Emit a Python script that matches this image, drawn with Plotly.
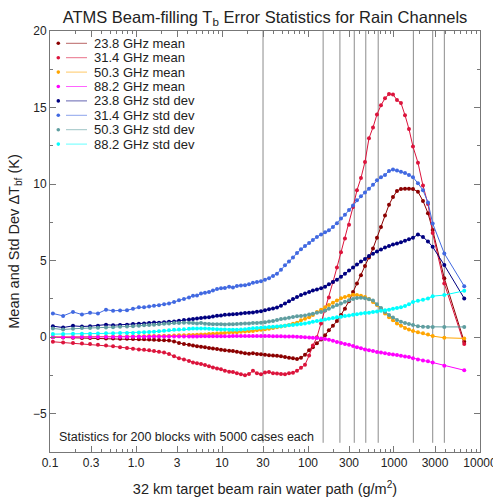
import plotly.graph_objects as go

# Rain water path of each block (g/m^2), shared by all series
rwp = [0.108, 0.142, 0.185, 0.235, 0.292, 0.361, 0.448, 0.541, 0.652, 0.785,
       0.922, 1.08, 1.24, 1.42, 1.62, 1.85, 2.12, 2.42, 2.77, 3.16,
       3.61, 4.13, 4.60, 5.12, 5.70, 6.34, 7.06, 7.85, 8.75, 9.73,
       10.8, 12.1, 13.4, 14.9, 16.6, 18.5, 20.6, 22.9, 25.5, 28.4,
       31.6, 35.2, 39.2, 43.6, 48.5, 54.0, 60.1, 66.9, 74.5, 82.9,
       92.3, 103, 114, 127, 142, 158, 175, 195, 217, 242,
       269, 300, 334, 371, 413, 460, 512, 570, 634, 706,
       786, 875, 973, 1083, 1205, 1343, 1493, 1663, 1900, 2173,
       2484, 2818, 3846, 6561]

mean_238 = [0.00, -0.02, -0.03, -0.05, -0.05, -0.07, -0.08, -0.08, -0.10, -0.10,
            -0.12, -0.13, -0.14, -0.15, -0.16, -0.18, -0.20, -0.22, -0.28, -0.38,
            -0.45, -0.50, -0.55, -0.60, -0.63, -0.66, -0.70, -0.74, -0.78, -0.82,
            -0.85, -0.88, -0.90, -0.95, -1.00, -1.05, -1.08, -1.05, -1.10, -1.12,
            -1.15, -1.18, -1.20, -1.22, -1.25, -1.30, -1.35, -1.38, -1.42, -1.35,
            -1.15, -0.85, -0.65, -0.40, -0.15, 0.12, 0.45, 0.75, 1.05, 1.45,
            1.85, 2.35, 2.95, 3.50, 4.05, 4.65, 5.20, 5.80, 6.50, 7.20,
            7.95, 8.65, 9.15, 9.55, 9.68, 9.70, 9.70, 9.68, 9.50, 8.90,
            8.10, 7.00, 3.85, -0.30]

mean_314 = [-0.30, -0.35, -0.38, -0.42, -0.45, -0.50, -0.55, -0.60, -0.65, -0.70,
            -0.75, -0.80, -0.82, -0.85, -0.90, -0.95, -1.00, -1.10, -1.25, -1.38,
            -1.45, -1.55, -1.65, -1.70, -1.75, -1.82, -1.90, -1.98, -2.05, -2.10,
            -2.20, -2.25, -2.28, -2.35, -2.42, -2.48, -2.40, -2.20, -2.35, -2.42,
            -2.30, -2.28, -2.35, -2.38, -2.40, -2.42, -2.35, -2.33, -2.20, -2.00,
            -1.80, -1.20, -0.55, 0.00, 0.90, 1.75, 2.60, 3.60, 4.55, 5.55,
            6.45, 7.35, 8.50, 9.60, 10.40, 11.45, 13.00, 13.70, 14.55, 15.15,
            15.60, 15.88, 15.85, 15.50, 15.30, 14.50, 13.60, 12.45, 11.40, 9.90,
            8.70, 6.80, 3.50, -0.45]

mean_503 = [0.02, 0.02, 0.02, 0.03, 0.03, 0.03, 0.04, 0.04, 0.05, 0.05,
            0.05, 0.06, 0.06, 0.07, 0.07, 0.08, 0.09, 0.10, 0.11, 0.12,
            0.13, 0.14, 0.15, 0.16, 0.17, 0.18, 0.20, 0.22, 0.24, 0.26,
            0.28, 0.30, 0.32, 0.33, 0.35, 0.37, 0.38, 0.40, 0.45, 0.48,
            0.52, 0.55, 0.60, 0.65, 0.70, 0.75, 0.80, 0.87, 0.95, 1.10,
            1.20, 1.30, 1.45, 1.65, 1.80, 1.95, 2.10, 2.25, 2.40, 2.55,
            2.62, 2.70, 2.77, 2.76, 2.70, 2.62, 2.50, 2.30, 2.10, 1.85,
            1.55, 1.30, 1.10, 0.90, 0.75, 0.60, 0.50, 0.40, 0.32, 0.25,
            0.18, 0.07, -0.04, -0.08]

mean_882 = [0.00, 0.00, 0.00, 0.01, 0.01, 0.01, 0.02, 0.02, 0.02, 0.02,
            0.03, 0.03, 0.03, 0.03, 0.04, 0.04, 0.04, 0.04, 0.05, 0.05,
            0.05, 0.05, 0.05, 0.05, 0.06, 0.06, 0.06, 0.06, 0.06, 0.06,
            0.06, 0.06, 0.07, 0.07, 0.07, 0.07, 0.07, 0.07, 0.07, 0.07,
            0.07, 0.07, 0.06, 0.06, 0.06, 0.05, 0.05, 0.04, 0.03, 0.02,
            0.00, -0.02, -0.04, -0.06, -0.08, -0.12, -0.17, -0.24, -0.31, -0.38,
            -0.45, -0.50, -0.58, -0.65, -0.72, -0.80, -0.85, -0.90, -0.96, -1.00,
            -1.05, -1.10, -1.13, -1.17, -1.21, -1.26, -1.30, -1.37, -1.45, -1.52,
            -1.58, -1.65, -1.87, -2.16]

std_238 = [0.72, 0.63, 0.74, 0.70, 0.72, 0.75, 0.82, 0.78, 0.80, 0.82,
           0.86, 0.87, 0.90, 0.93, 0.96, 0.95, 0.98, 1.00, 1.03, 1.08,
           1.12, 1.15, 1.18, 1.22, 1.25, 1.28, 1.30, 1.35, 1.40, 1.42,
           1.46, 1.48, 1.50, 1.52, 1.55, 1.58, 1.60, 1.62, 1.66, 1.70,
           1.76, 1.82, 1.88, 1.94, 2.05, 2.20, 2.35, 2.50, 2.62, 2.75,
           2.85, 2.95, 3.05, 3.12, 3.20, 3.30, 3.45, 3.60, 3.75, 3.95,
           4.15, 4.35, 4.55, 4.75, 4.95, 5.10, 5.30, 5.45, 5.60, 5.72,
           5.85, 5.95, 6.05, 6.12, 6.20, 6.30, 6.40, 6.50, 6.70, 6.55,
           6.25, 5.90, 4.71, 2.53]

std_314 = [1.55, 1.39, 1.65, 1.48, 1.59, 1.55, 1.80, 1.72, 1.75, 1.76,
           1.85, 1.95, 1.95, 2.00, 2.05, 2.08, 2.15, 2.20, 2.30, 2.42,
           2.50, 2.60, 2.70, 2.72, 2.85, 2.90, 2.95, 3.05, 3.15, 3.20,
           3.22, 3.30, 3.25, 3.35, 3.38, 3.40, 3.45, 3.55, 3.60, 3.65,
           3.75, 3.85, 4.00, 4.15, 4.40, 4.70, 4.95, 5.20, 5.50, 5.75,
           5.95, 6.15, 6.35, 6.55, 6.70, 6.85, 6.98, 7.20, 7.45, 7.75,
           8.00, 8.30, 8.60, 8.95, 9.20, 9.45, 9.70, 9.95, 10.25, 10.45,
           10.60, 10.85, 10.95, 10.88, 10.80, 10.72, 10.60, 10.45, 10.05, 9.60,
           8.80, 7.43, 5.47, 3.33]

std_503 = [0.57, 0.50, 0.55, 0.60, 0.60, 0.62, 0.63, 0.65, 0.68, 0.70,
           0.72, 0.75, 0.78, 0.80, 0.82, 0.85, 0.88, 0.90, 0.92, 0.93,
           0.95, 0.94, 0.93, 0.90, 0.92, 0.88, 0.86, 0.85, 0.84, 0.84,
           0.83, 0.84, 0.85, 0.86, 0.88, 0.90, 0.90, 0.92, 0.93, 0.95,
           0.98, 1.02, 1.06, 1.12, 1.18, 1.22, 1.27, 1.32, 1.36, 1.38,
           1.42, 1.48, 1.53, 1.59, 1.65, 1.75, 1.85, 1.98, 2.10, 2.20,
           2.32, 2.42, 2.50, 2.56, 2.58, 2.55, 2.48, 2.40, 2.15, 1.90,
           1.65, 1.45, 1.28, 1.12, 1.00, 0.93, 0.86, 0.80, 0.72, 0.68,
           0.67, 0.67, 0.67, 0.67]

std_882 = [0.20, 0.20, 0.22, 0.22, 0.23, 0.24, 0.25, 0.26, 0.27, 0.28,
           0.28, 0.30, 0.32, 0.34, 0.36, 0.38, 0.42, 0.45, 0.48, 0.50,
           0.52, 0.55, 0.56, 0.57, 0.57, 0.56, 0.55, 0.54, 0.52, 0.50,
           0.50, 0.48, 0.48, 0.48, 0.50, 0.52, 0.55, 0.58, 0.60, 0.62,
           0.64, 0.66, 0.68, 0.70, 0.72, 0.75, 0.78, 0.80, 0.83, 0.86,
           0.90, 0.95, 1.00, 1.05, 1.10, 1.15, 1.20, 1.25, 1.30, 1.34,
           1.38, 1.42, 1.46, 1.50, 1.55, 1.58, 1.60, 1.64, 1.68, 1.72,
           1.76, 1.80, 1.85, 1.90, 1.95, 2.03, 2.15, 2.30, 2.38, 2.45,
           2.52, 2.68, 2.75, 3.03]

series_names = ["23.8 GHz mean", "31.4 GHz mean", "50.3 GHz mean", "88.2 GHz mean",
                "23.8 GHz std dev", "31.4 GHz std dev", "50.3 GHz std dev", "88.2 GHz std dev"]
series_values = [mean_238, mean_314, mean_503, mean_882,
                 std_238, std_314, std_503, std_882]
series_colors = ["#8b0000", "#dc143c", "#ffa500", "#ff00ff",
                 "#000080", "#4169e1", "#5f9ea0", "#00ffff"]

# Rain water path thresholds marked with vertical lines
marker_paths = [30, 150, 235, 345, 470, 655, 1680, 2820, 3850]

x_tickvals = [0.1, 0.3, 1, 3, 10, 30, 100, 300, 1000, 3000, 10000]
x_ticktext = ["0.1", "0.3", "1.0", "3", "10", "30", "100", "300", "1000", "3000", "10000"]
y_tickvals = [-5, 0, 5, 10, 15, 20]

for v in series_values:
    assert len(v) == len(rwp)

FONT = "Liberation Sans, Arial, Helvetica, sans-serif"
TXT = "#222222"
Y_MIN, Y_MAX = -7.5, 20
LINE_BOTTOM = -6.9

fig = go.Figure()

for p in marker_paths:
    fig.add_trace(go.Scatter(x=[p, p], y=[LINE_BOTTOM, Y_MAX], mode="lines",
                             line=dict(color="#8c8c8c", width=1),
                             showlegend=False, hoverinfo="skip"))

for name, vals, col in zip(series_names, series_values, series_colors):
    fig.add_trace(go.Scatter(x=rwp, y=vals, mode="lines+markers", name=name,
                             line=dict(color=col, width=1),
                             marker=dict(color=col, size=4),
                             showlegend=False))

# Key in the upper-left corner: dot, short line, label
L, R, T, B = 50, 480, 31, 452
W, H = R - L, B - T
shapes = []
annotations = []
row_y = [43.3, 57.7, 72.1, 86.5, 100.9, 115.3, 129.7, 144.1]
for py, name, col in zip(row_y, series_names, series_colors):
    yp = 1 - (py - T) / H
    shapes.append(dict(type="line", xref="paper", yref="paper",
                       x0=(66 - L) / W, x1=(87 - L) / W, y0=yp, y1=yp,
                       line=dict(color=col, width=1), opacity=0.6))
    shapes.append(dict(type="circle", xref="paper", yref="paper",
                       xsizemode="pixel", ysizemode="pixel",
                       xanchor=(58.3 - L) / W, yanchor=yp,
                       x0=-1.8, x1=1.8, y0=-1.8, y1=1.8,
                       fillcolor=col, line=dict(color=col, width=0)))
    annotations.append(dict(text=name, xref="paper", yref="paper",
                            x=(91.5 - L) / W, y=yp, xanchor="left", yanchor="middle",
                            showarrow=False, font=dict(family=FONT, size=13, color=TXT)))

annotations.append(dict(text="Statistics for 200 blocks with 5000 cases each",
                        xref="paper", yref="paper", x=(56.5 - L) / W, y=1 - (437 - T) / H,
                        xanchor="left", yanchor="middle", showarrow=False,
                        font=dict(family=FONT, size=12.5, color=TXT)))

minor_x = []
for d in [0.1, 1, 10, 100, 1000]:
    for k in range(2, 10):
        minor_x.append(d * k)

fig.update_layout(
    width=493, height=499,
    margin=dict(l=L, r=493 - R, t=T, b=499 - B),
    paper_bgcolor="white", plot_bgcolor="white",
    font=dict(family=FONT, color=TXT),
    title=dict(text="ATMS Beam-filling T<sub>b</sub> Error Statistics for Rain Channels",
               x=0.5, xref="paper", y=1 - 17 / 499, yref="container",
               xanchor="center", yanchor="middle",
               font=dict(family=FONT, size=16.5, color=TXT)),
    xaxis=dict(type="log", range=[-1.0002, 4.0002], tickmode="array",
               tickvals=x_tickvals, ticktext=x_ticktext,
               ticklabeloverflow="allow", automargin=False,
               ticks="inside", ticklen=6, tickcolor="#777777",
               showline=True, linecolor="#777777", linewidth=1, mirror="allticks",
               showgrid=False, zeroline=False,
               tickfont=dict(family=FONT, size=12, color=TXT),
               minor=dict(tickmode="array", tickvals=minor_x, ticks="inside",
                          ticklen=3, tickcolor="#777777", showgrid=False),
               title=dict(text="32 km target beam rain water path (g/m<sup>2</sup>)",
                          font=dict(family=FONT, size=14.5, color=TXT), standoff=14)),
    yaxis=dict(range=[Y_MIN, Y_MAX], tickmode="array", tickvals=y_tickvals,
               automargin=False,
               ticks="inside", ticklen=6, tickcolor="#777777",
               showline=True, linecolor="#777777", linewidth=1, mirror="allticks",
               showgrid=False, zeroline=False,
               tickfont=dict(family=FONT, size=12, color=TXT),
               minor=dict(dtick=2.5, tick0=0, ticks="inside", ticklen=3,
                          tickcolor="#777777", showgrid=False),
               title=dict(text="Mean and Std Dev \u0394T<sub>bf</sub> (K)",
                          font=dict(family=FONT, size=14.5, color=TXT), standoff=9)),
    shapes=shapes,
    annotations=annotations,
    showlegend=False,
)

fig.write_html("out.html")
